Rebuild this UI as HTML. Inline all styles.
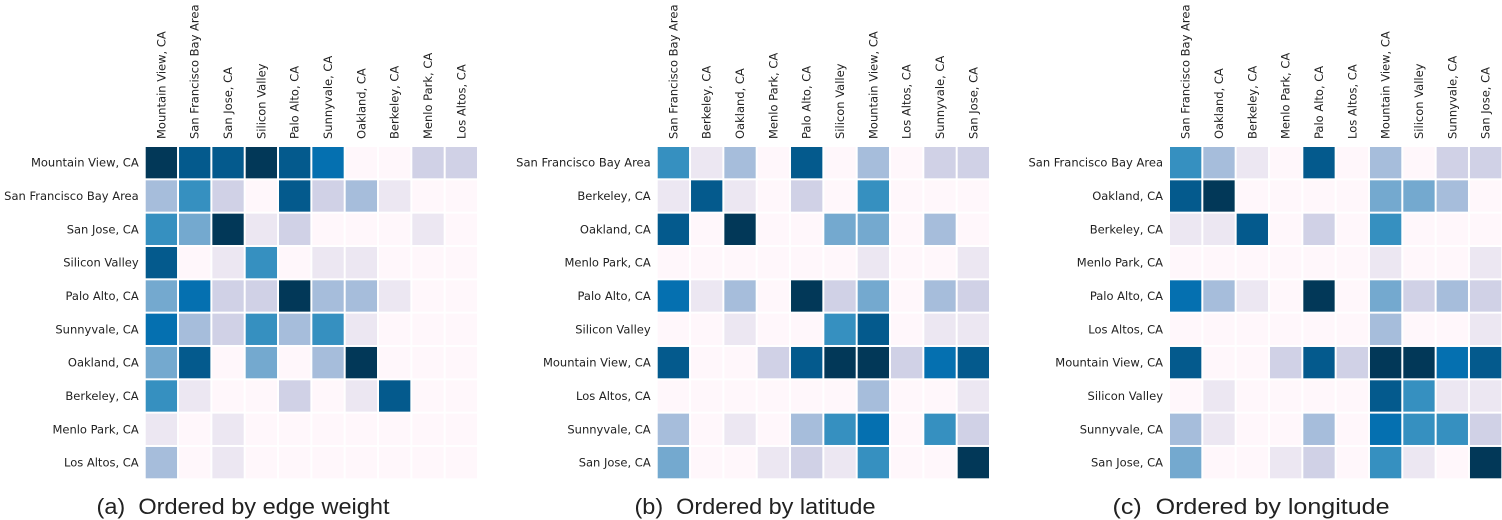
<!DOCTYPE html>
<html><head><meta charset="utf-8"><style>
body{margin:0;background:#fff;width:1502px;height:520px;overflow:hidden}
svg{display:block}
text{font-family:"DejaVu Sans","Liberation Sans",sans-serif;fill:#222}
</style></head><body>
<svg id="chart" width="1502" height="520" viewBox="0 0 1502 520"></svg>
<script>
const colorLevels = ["#fff7fb","#ece7f2","#d0d1e6","#a6bddb","#74a9cf","#3690c0","#0570b0","#045a8d","#023858"];
const labelsA = ["Mountain View, CA","San Francisco Bay Area","San Jose, CA","Silicon Valley","Palo Alto, CA","Sunnyvale, CA","Oakland, CA","Berkeley, CA","Menlo Park, CA","Los Altos, CA"];
const labelsB = ["San Francisco Bay Area","Berkeley, CA","Oakland, CA","Menlo Park, CA","Palo Alto, CA","Silicon Valley","Mountain View, CA","Los Altos, CA","Sunnyvale, CA","San Jose, CA"];
const labelsC = ["San Francisco Bay Area","Oakland, CA","Berkeley, CA","Menlo Park, CA","Palo Alto, CA","Los Altos, CA","Mountain View, CA","Silicon Valley","Sunnyvale, CA","San Jose, CA"];
const valuesA = [
[8,7,7,8,7,6,0,0,2,2],[3,5,2,0,7,2,3,1,0,0],[5,4,8,1,2,0,0,0,1,0],[7,0,1,5,0,1,1,0,0,0],
[4,6,2,2,8,3,3,1,0,0],[6,3,2,5,3,5,1,0,0,0],[4,7,0,4,0,3,8,0,0,0],[5,1,0,0,2,0,1,7,0,0],
[1,0,1,0,0,0,0,0,0,0],[3,0,1,0,0,0,0,0,0,0]];
const valuesB = [
[5,1,3,0,7,0,3,0,2,2],[1,7,1,0,2,0,5,0,0,0],[7,0,8,0,0,4,4,0,3,0],[0,0,0,0,0,0,1,0,0,1],
[6,1,3,0,8,2,4,0,3,2],[0,0,1,0,0,5,7,0,1,1],[7,0,0,2,7,8,8,2,6,7],[0,0,0,0,0,0,3,0,0,1],
[3,0,1,0,3,5,6,0,5,2],[4,0,0,1,2,1,5,0,0,8]];
const valuesC = [
[5,3,1,0,7,0,3,0,2,2],[7,8,0,0,0,0,4,4,3,0],[1,1,7,0,2,0,5,0,0,0],[0,0,0,0,0,0,1,0,0,1],
[6,3,1,0,8,0,4,2,3,2],[0,0,0,0,0,0,3,0,0,1],[7,0,0,2,7,2,8,8,6,7],[0,1,0,0,0,0,7,5,1,1],
[3,1,0,0,3,0,6,5,5,2],[4,0,0,1,2,0,5,1,0,8]];
const captions = ["(a)\u00a0\u00a0Ordered by edge weight","(b)\u00a0\u00a0Ordered by latitude","(c)\u00a0\u00a0Ordered by longitude"];

const NS="http://www.w3.org/2000/svg";
const svg=document.getElementById('chart');
function mk(t,a,p){const e=document.createElementNS(NS,t);for(const k in a)e.setAttribute(k,a[k]);(p||svg).appendChild(e);return e;}
const panels=[{x0:144.7,labels:labelsA,vals:valuesA,cx:243,w:293},{x0:656.7,labels:labelsB,vals:valuesB,cx:755,w:241},{x0:1169,labels:labelsC,vals:valuesC,cx:1251,w:277}];
const y0=146, cell=33.33;
function xs(p,i){return p.x0+i*cell;}
function ys(j){return y0+j*cell;}
panels.forEach((p,pi)=>{
  const g=mk('g',{});
  
  
  p.vals.forEach((row,r)=>row.forEach((v,c)=>{
    const rc=mk('rect',{x:xs(p,c)+1,y:ys(r)+1,width:cell-2,height:cell-2,fill:colorLevels[v]},g);
    
    
  }));
  p.labels.forEach((l,i)=>{
    const t=mk('text',{x:p.x0-6,y:ys(i)+cell/2+4,'text-anchor':'end','font-size':'11.5'},g);
    t.textContent=l;
    
    
    const cx=xs(p,i)+cell/2+4;
    const t2=mk('text',{x:0,y:0,'text-anchor':'start','font-size':'11.5',transform:`translate(${cx},139) rotate(-90)`},g);
    t2.textContent=l;
    
    
  });
  const cap=mk('text',{x:p.cx-p.w/2,y:514,'font-size':'22',textLength:p.w,lengthAdjust:'spacingAndGlyphs'},g);
  cap.style.fontFamily='"Liberation Sans",sans-serif';
  cap.textContent=captions[pi];
  
  
});
</script>
</body></html>
